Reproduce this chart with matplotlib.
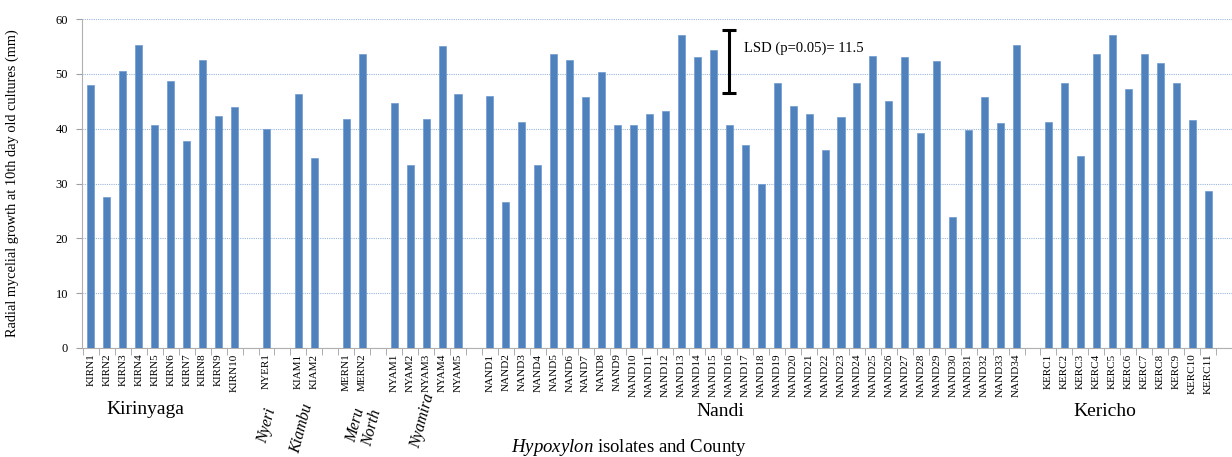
import matplotlib
matplotlib.use("Agg")
import matplotlib.pyplot as plt
import numpy as np

# ---- data ----
kirn_labels = [f"KIRN{i}" for i in range(1, 11)]
kirn_values = [48.0, 27.6, 50.6, 55.3, 40.7, 48.7, 37.7, 52.6, 42.3, 43.9]
nyer_labels = ["NYER1"]
nyer_values = [40.0]
kiam_labels = ["KIAM1", "KIAM2"]
kiam_values = [46.3, 34.6]
mern_labels = ["MERN1", "MERN2"]
mern_values = [41.8, 53.7]
nyam_labels = [f"NYAM{i}" for i in range(1, 6)]
nyam_values = [44.6, 33.3, 41.7, 55.0, 46.3]
nand_labels = [f"NAND{i}" for i in range(1, 35)]
nand_values = [46.0, 26.7, 41.3, 33.3, 53.7, 52.6, 45.7, 50.3, 40.6, 40.6,
               42.7, 43.3, 57.0, 53.0, 54.3, 40.6, 37.1, 30.0, 48.3, 44.2,
               42.7, 36.2, 42.2, 48.3, 53.2, 45.0, 53.0, 39.3, 52.3, 23.9,
               39.7, 45.7, 41.0, 55.3]
kerc_labels = [f"KERC{i}" for i in range(1, 12)]
kerc_values = [41.3, 48.3, 35.0, 53.7, 57.0, 47.3, 53.7, 52.0, 48.3, 41.6, 28.7]

counties = ["Kirinyaga", "Nyeri", "Kiambu", "Meru\nNorth", "Nyamira", "Nandi", "Kericho"]
lsd_value = 11.5
lsd_top = 58.0
lsd_text = "LSD (p=0.05)= 11.5"

groups = [(kirn_labels, kirn_values), (nyer_labels, nyer_values),
          (kiam_labels, kiam_values), (mern_labels, mern_values),
          (nyam_labels, nyam_values), (nand_labels, nand_values),
          (kerc_labels, kerc_values)]

# build positions with one empty slot between counties
positions, labels, values = [], [], []
pos = 0
for labs, vals in groups:
    for l, v in zip(labs, vals):
        positions.append(pos)
        labels.append(l)
        values.append(v)
        pos += 1
    pos += 1
n_slots = pos - 1

serif = ["Liberation Serif", "DejaVu Serif"]
plt.rcParams["font.family"] = serif
plt.rcParams["mathtext.fontset"] = "custom"
plt.rcParams["mathtext.it"] = "Liberation Serif:italic"
plt.rcParams["mathtext.rm"] = "Liberation Serif"

fig = plt.figure(figsize=(12.32, 4.57), dpi=100)
ax = fig.add_axes([82/1232, 1 - 348/457, 1 - 82/1232, (348 - 19)/457])

ax.bar(positions, values, width=0.44, color="#4f81bd", edgecolor="#6f9bd1",
       linewidth=0.5, zorder=3)

ax.set_xlim(-0.56, 70.6)
ax.set_ylim(0, 60)
ax.set_yticks(np.arange(0, 61, 10))
ax.tick_params(axis="y", labelsize=9, length=4, color="#a0a0a0", pad=6)
ax.yaxis.grid(True, color="#9bb7dd", linestyle=(0, (1, 1)), linewidth=0.8, zorder=0)

ax.set_xticks(positions)
ax.set_xticklabels(labels, rotation=90, fontsize=8)
ax.tick_params(axis="x", length=0, pad=4)
ax.set_xticks(np.arange(-0.5, n_slots + 1, 1), minor=True)
ax.tick_params(axis="x", which="minor", length=5, color="#a0a0a0")

for s in ["top", "right"]:
    ax.spines[s].set_visible(False)
ax.spines["left"].set_color("#b0b0b0")
ax.spines["bottom"].set_color("#b0b0b0")

ax.set_ylabel("Radial mycelial growth at 10th day old cultures (mm)", fontsize=10.4)
ax.yaxis.set_label_coords(-0.055, 0.5)

# LSD bar at NAND16 position
lsd_x = positions[labels.index("NAND16")]
ax.errorbar([lsd_x], [lsd_top - lsd_value / 2], yerr=[lsd_value / 2], color="black",
            capsize=5, elinewidth=2.2, capthick=2.2, zorder=5)
ax.text(lsd_x + 0.9, 54.7, lsd_text, fontsize=10.5, va="center", ha="left")

# county labels (figure pixel coords)
def fx(px):
    return px / 1232
def fy(py):
    return 1 - py / 457

fig.text(fx(145), fy(410), counties[0], fontsize=14, ha="center", va="center")
fig.text(fx(267), fy(426), counties[1], fontsize=11.5, ha="center", va="center", rotation=75, style="italic")
fig.text(fx(302), fy(429), counties[2], fontsize=11.5, ha="center", va="center", rotation=75, style="italic")
fig.text(fx(364), fy(426), counties[3], fontsize=11.5, ha="center", va="center", rotation=75,
         style="italic", multialignment="left", linespacing=1.0)
fig.text(fx(423), fy(421), counties[4], fontsize=11.5, ha="center", va="center", rotation=75, style="italic")
fig.text(fx(720), fy(411), counties[5], fontsize=14, ha="center", va="center")
fig.text(fx(1105), fy(411), counties[6], fontsize=14, ha="center", va="center")

fig.text(fx(629), fy(447), r"$\it{Hypoxylon}$" + " isolates and County", fontsize=13.5,
         ha="center", va="center")

fig.savefig("out.png", dpi=100, facecolor="white")
